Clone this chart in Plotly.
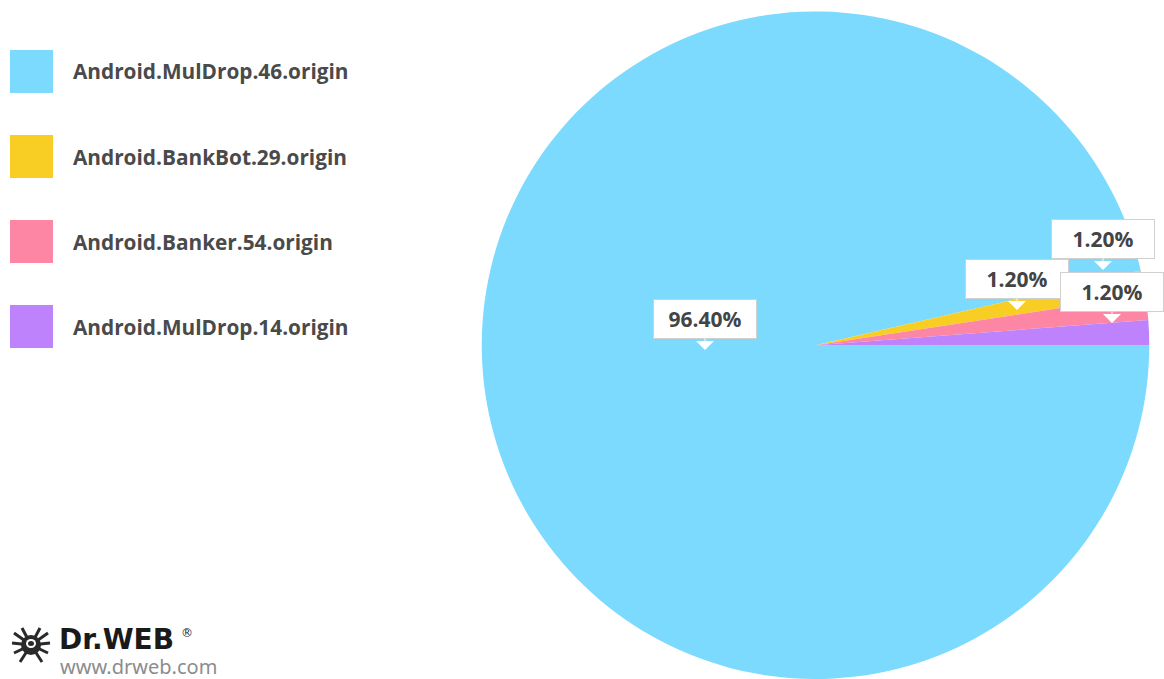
import plotly.graph_objects as go

# ---- data ----
labels = ["Android.MulDrop.46.origin", "Android.BankBot.29.origin",
          "Android.Banker.54.origin", "Android.MulDrop.14.origin"]
values = [96.40, 1.20, 1.20, 1.20]

# ---- styles ----
colors = ["#7BDAFE", "#F9CE24", "#FE86A5", "#BD82FC"]
W, H = 1164, 679


def px(x):
    return x / W


def py(y):
    return 1 - y / H


fig = go.Figure()
fig.add_trace(go.Pie(
    labels=labels, values=values, sort=False, direction="clockwise", rotation=90,
    marker=dict(colors=colors, line=dict(width=0)),
    textinfo="none", hoverinfo="label+percent", showlegend=False,
    domain=dict(x=[481 / W, 1150 / W], y=[0, 667.5 / H]),
))

shapes = []
annotations = []

# ---- custom legend ----
leg_top = [50, 135, 220, 305]
for lab, col, top in zip(labels, colors, leg_top):
    shapes.append(dict(type="rect", xref="paper", yref="paper",
                       x0=px(10), x1=px(53), y0=py(top), y1=py(top + 43),
                       fillcolor=col, line=dict(width=0)))
    annotations.append(dict(xref="paper", yref="paper", x=px(71), y=py(top + 21.5),
                            xanchor="left", yanchor="middle", showarrow=False,
                            text=lab, font=dict(family="Open Sans", size=20.8,
                                                color="#4a4a4a", weight=700)))

# ---- callout labels (tip pixel positions) ----
label_tips = [(705, 350), (1017, 310), (1103, 270), (1112, 323)]
for v, (tx, ty) in zip(values, label_tips):
    annotations.append(dict(
        xref="paper", yref="paper", x=px(tx), y=py(ty),
        text=f"<b>{v:.2f}%</b>", showarrow=True, arrowhead=1, arrowsize=3,
        arrowwidth=1, arrowcolor="white", ax=0, ay=-31,
        bgcolor="white", bordercolor="#d0d0d0", borderwidth=1, borderpad=7,
        width=88, height=24,
        font=dict(family="Open Sans", size=21, color="#444444")))

# ---- Dr.WEB logo ----
cx, cy = 31, 645
legs = [(-17, -12), (-19, -2), (-17, 8), (-11, 17), (17, -12), (19, -2), (17, 8), (11, 17),
        (-9, -17), (9, -17)]
for dx, dy in legs:
    shapes.append(dict(type="line", xref="paper", yref="paper",
                       x0=px(cx), y0=py(cy), x1=px(cx + dx), y1=py(cy + dy),
                       line=dict(color="#2a2a2a", width=3)))
shapes.append(dict(type="circle", xref="paper", yref="paper",
                   x0=px(cx - 10), x1=px(cx + 10), y0=py(cy - 10), y1=py(cy + 10),
                   fillcolor="#2a2a2a", line=dict(width=0)))
shapes.append(dict(type="circle", xref="paper", yref="paper",
                   x0=px(cx - 5), x1=px(cx + 5), y0=py(cy - 6), y1=py(cy + 3),
                   fillcolor="white", line=dict(width=0)))
shapes.append(dict(type="circle", xref="paper", yref="paper",
                   x0=px(cx - 3), x1=px(cx + 3), y0=py(cy - 4), y1=py(cy + 1),
                   fillcolor="#2a2a2a", line=dict(width=0)))
annotations.append(dict(xref="paper", yref="paper", x=px(57), y=py(639),
                        xanchor="left", yanchor="middle", showarrow=False,
                        text="<b>Dr.WEB</b>", height=26, valign="middle",
                        font=dict(family="DejaVu Sans", size=28, color="#1a1a1a")))
annotations.append(dict(xref="paper", yref="paper", x=px(179), y=py(633),
                        xanchor="left", yanchor="middle", showarrow=False,
                        text="®", font=dict(family="DejaVu Sans", size=12, color="#1a1a1a")))
annotations.append(dict(xref="paper", yref="paper", x=px(58), y=py(678),
                        xanchor="left", yanchor="bottom", showarrow=False,
                        text="www.drweb.com", height=20, valign="middle",
                        font=dict(family="Noto Sans", size=20, color="#8c8c8c")))

fig.update_layout(
    width=W, height=H, margin=dict(l=0, r=0, t=0, b=0),
    paper_bgcolor="white", plot_bgcolor="white",
    shapes=shapes, annotations=annotations, showlegend=False,
)

fig.write_html("out.html")
